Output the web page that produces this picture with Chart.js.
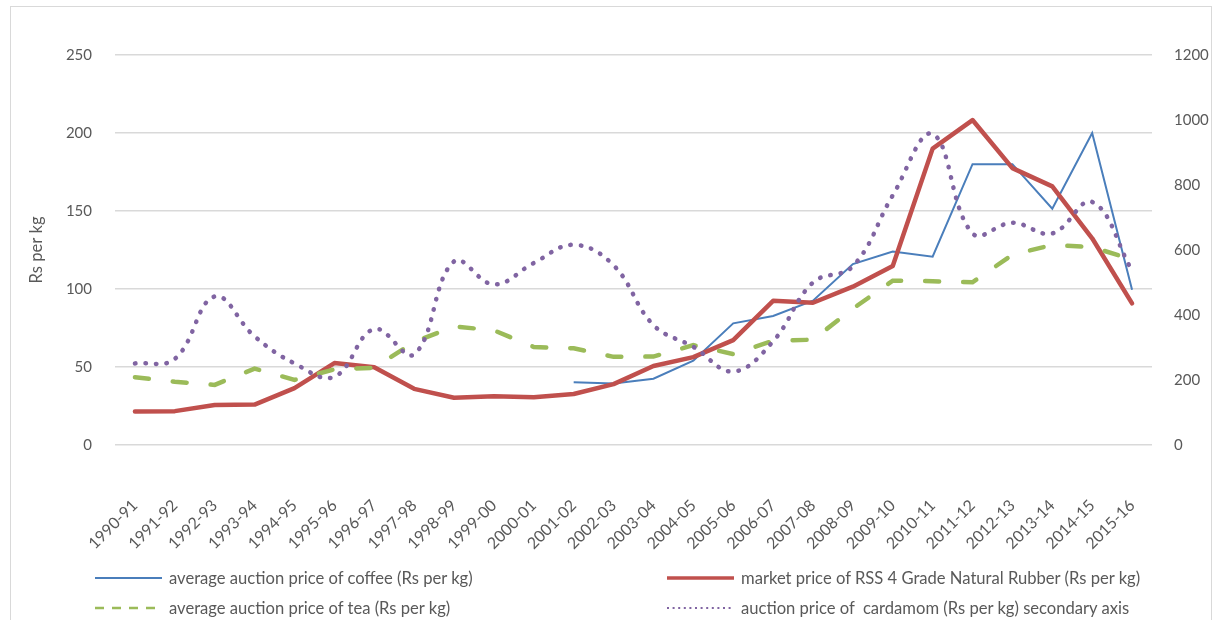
<!DOCTYPE html>
<html>
<head>
<meta charset="utf-8">
<title>Commodity prices 1990-91 to 2015-16</title>
<script src="https://cdn.jsdelivr.net/npm/chart.js@4.4.1/dist/chart.umd.min.js"></script>
<style>
  html, body { margin: 0; padding: 0; background: #fff; }
  #wrap { position: relative; width: 1219px; height: 620px; overflow: hidden; }
  #frame { position: absolute; left: 10px; top: 6px; width: 1202px; height: 660px;
           border: 1.5px solid #d9d9d9; box-sizing: border-box; pointer-events: none; }
  #c { position: absolute; left: 0; top: 0; }
  #legend { position: absolute; left: 95px; top: 563px; display: grid;
            grid-template-columns: 572px auto; grid-auto-rows: 30px; }
  .item { display: flex; align-items: center; font: 16.6px Lato, sans-serif; color: #595959; white-space: pre; }
  .item svg { margin-right: 7px; flex: none; }
</style>
</head>
<body>
<div id="wrap">
  <canvas id="c" width="1219" height="620"></canvas>
  <div id="frame"></div>
  <div id="legend"></div>
</div>
<script>
// Financial years on the category axis
const categories = ['1990-91','1991-92','1992-93','1993-94','1994-95','1995-96','1996-97',
  '1997-98','1998-99','1999-00','2000-01','2001-02','2002-03','2003-04','2004-05','2005-06',
  '2006-07','2007-08','2008-09','2009-10','2010-11','2011-12','2012-13','2013-14','2014-15','2015-16'];

// Rs per kg (primary axis)
const coffeePrice = [null,null,null,null,null,null,null,null,null,null,null,
  40.2, 39.5, 42.5, 54, 78, 82.7, 92.5, 116, 124, 120.7, 180, 180, 151.5, 200, 99.5];
const rubberPrice = [21.5, 21.7, 25.6, 25.9, 36.5, 52.5, 49.8, 36, 30.3, 31.3, 30.6, 32.7,
  39, 50.6, 56.3, 67.2, 92.4, 91.2, 101.5, 114.7, 190, 208.3, 177.5, 165.8, 132.5, 90.8];
const teaPrice = [43.4, 40.6, 38.5, 49, 41.7, 48.5, 49.5, 66, 76, 73.5, 62.8, 62, 56.5,
  56.7, 64, 58.3, 66.8, 67.5, 87.4, 105.3, 105, 104.3, 122, 128.2, 126.8, 119];

// Rs per kg (secondary axis)
const cardamomPrice = [251, 265, 457, 334, 251, 210, 357, 279, 565, 494, 560, 616, 553,
  369, 302, 226, 319, 500, 550, 768, 957, 651, 684, 651, 748, 536];

// Axis tick values
const leftTicks = [0, 50, 100, 150, 200, 250];
const rightTicks = [0, 200, 400, 600, 800, 1000, 1200];

const seriesNames = [
  'average auction price of coffee (Rs per kg)',
  'market price of RSS 4 Grade Natural Rubber (Rs per kg)',
  'average auction price of tea (Rs per kg)',
  'auction price of  cardamom (Rs per kg) secondary axis'
];

const FONT = 'Lato, sans-serif';
const TEXT = '#595959';
const GRID = '#d9d9d9';
const plain = v => String(v);

const chart = new Chart(document.getElementById('c'), {
  type: 'line',
  data: {
    labels: categories,
    datasets: [
      { label: seriesNames[0], data: coffeePrice, yAxisID: 'y', order: 3,
        borderColor: '#4a7ebb', borderWidth: 2, tension: 0, pointRadius: 0,
        legendStyle: { width: 2.2 } },
      { label: seriesNames[1], data: rubberPrice, yAxisID: 'y', order: 2,
        borderColor: '#c0504d', borderWidth: 4.5, borderJoinStyle: 'round', borderCapStyle: 'round',
        tension: 0, pointRadius: 0, legendStyle: { width: 3.5 } },
      { label: seriesNames[2], data: teaPrice, yAxisID: 'y', order: 1,
        borderColor: '#9bbb59', borderWidth: 4.5, borderDash: [14, 24], borderCapStyle: 'round',
        tension: 0, pointRadius: 0, legendStyle: { width: 2.6, dash: '9 8' } },
      { label: seriesNames[3], data: cardamomPrice, yAxisID: 'y1', order: 0,
        borderColor: '#8064a2', borderWidth: 4.5, borderDash: [0.5, 10], borderCapStyle: 'round',
        tension: 0.4, pointRadius: 0, legendStyle: { width: 2, dash: '2 3.6' } }
    ]
  },
  options: {
    responsive: false,
    animation: false,
    events: [],
    layout: { padding: { top: 55, left: 0, right: 0, bottom: 0 } },
    plugins: { legend: { display: false }, tooltip: { enabled: false } },
    scales: {
      x: {
        type: 'category',
        offset: true,
        grid: { display: false, drawTicks: false },
        border: { display: false },
        ticks: { autoSkip: false, minRotation: 45, maxRotation: 45, padding: 51,
                 color: TEXT, font: { family: FONT, size: 16 } },
        afterFit(s) { s.height = 175; }
      },
      y: {
        position: 'left',
        min: leftTicks[0], max: leftTicks[leftTicks.length - 1],
        ticks: { stepSize: leftTicks[1] - leftTicks[0], padding: 23, callback: plain,
                 color: TEXT, font: { family: FONT, size: 15 } },
        grid: { color: GRID, lineWidth: 1.4, drawTicks: false },
        border: { display: false },
        title: { display: true, text: 'Rs per kg', color: TEXT,
                 font: { family: FONT, size: 16.6 }, padding: { top: 27, bottom: 0 } },
        afterFit(s) { s.width = 115; }
      },
      y1: {
        position: 'right',
        min: rightTicks[0], max: rightTicks[rightTicks.length - 1],
        ticks: { stepSize: rightTicks[1] - rightTicks[0], padding: 22, callback: plain,
                 color: TEXT, font: { family: FONT, size: 15 } },
        grid: { display: false, drawTicks: false },
        border: { display: false },
        afterFit(s) { s.width = 67; }
      }
    }
  }
});

// Legend in two columns, built from the chart's datasets
const legend = document.getElementById('legend');
const NS = 'http://www.w3.org/2000/svg';
chart.data.datasets.forEach(ds => {
  const item = document.createElement('div');
  item.className = 'item';
  const svg = document.createElementNS(NS, 'svg');
  svg.setAttribute('width', '67');
  svg.setAttribute('height', '10');
  const ln = document.createElementNS(NS, 'line');
  ln.setAttribute('x1', '0'); ln.setAttribute('x2', '67');
  ln.setAttribute('y1', '5'); ln.setAttribute('y2', '5');
  ln.setAttribute('stroke', ds.borderColor);
  ln.setAttribute('stroke-width', ds.legendStyle.width);
  if (ds.legendStyle.dash) ln.setAttribute('stroke-dasharray', ds.legendStyle.dash);
  svg.appendChild(ln);
  item.appendChild(svg);
  item.appendChild(document.createTextNode(ds.label));
  legend.appendChild(item);
});
</script>
</body>
</html>
